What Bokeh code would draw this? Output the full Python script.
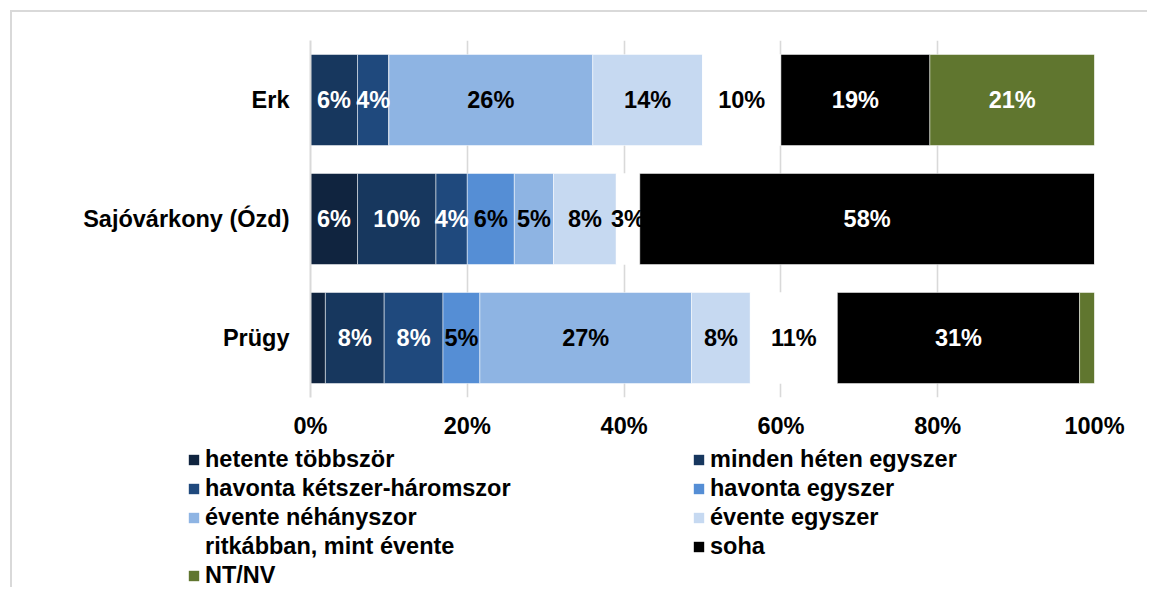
from bokeh.plotting import figure
from bokeh.models import ColumnDataSource, Legend, LegendItem, FixedTicker, Range1d, FactorRange
from bokeh.core.properties import value
from bokeh.embed import file_html
from bokeh.resources import INLINE

# ---- data ----
places = ["Erk", "Sajóvárkony (Ózd)", "Prügy"]
series = ["hetente többször", "minden héten egyszer", "havonta kétszer-háromszor",
          "havonta egyszer", "évente néhányszor", "évente egyszer",
          "ritkábban, mint évente", "soha", "NT/NV"]
hetente_tobbszor = [0.0, 6.0, 1.9]
minden_heten_egyszer = [6.0, 10.0, 7.5]
havonta_ketszer_haromszor = [4.0, 4.0, 7.5]
havonta_egyszer = [0.0, 6.0, 4.7]
evente_nehanyszor = [26.0, 5.0, 27.0]
evente_egyszer = [14.0, 8.0, 7.5]
ritkabban = [10.0, 3.0, 11.1]
soha = [19.0, 58.0, 30.9]
nt_nv = [21.0, 0.0, 1.9]
tick_values = [0, 20, 40, 60, 80, 100]
tick_labels = ["0%", "20%", "40%", "60%", "80%", "100%"]

colors = ["#10243F", "#17375E", "#1F497D", "#558ED5", "#8EB4E3", "#C6D9F1",
          "#FFFFFF", "#000000", "#60762F"]
label_colors = ["white", "white", "white", "black", "black", "black",
                "black", "white", "white"]

values = [hetente_tobbszor, minden_heten_egyszer, havonta_ketszer_haromszor,
          havonta_egyszer, evente_nehanyszor, evente_egyszer, ritkabban, soha, nt_nv]
keys = ["s%d" % i for i in range(len(series))]

data = {"place": places}
for k, v in zip(keys, values):
    data[k] = v
source = ColumnDataSource(data)

FONT = "Liberation Sans"
FS = "23.5px"
W = 1137
BORDER = "2px solid #d9d9d9"

p = figure(width=W, height=435, output_backend="svg", toolbar_location=None,
           y_range=FactorRange(*reversed(places), range_padding=0),
           x_range=Range1d(0, 100),
           min_border_left=298, min_border_top=28, min_border_right=55,
           min_border_bottom=50)
p.margin = (10, 0, 0, 10)
p.styles = {"border-top": BORDER, "border-left": BORDER}

renderers = p.hbar_stack(keys, y="place", height=0.765, color=colors, source=source,
                         line_color="white", line_alpha=0.5, line_width=1)

# segment labels
lx, ly, lt, lc = [], [], [], []
for j, place in enumerate(places):
    start = 0.0
    for i in range(len(series)):
        v = values[i][j]
        if v >= 2.5:
            lx.append(start + v / 2)
            ly.append(place)
            lt.append("%d%%" % int(v + 0.5))
            lc.append(label_colors[i])
        start += v
lsrc = ColumnDataSource(dict(x=lx, y=ly, t=lt, c=lc))
p.text(x="x", y="y", text="t", text_color="c", source=lsrc, text_align="center",
       text_baseline="middle", text_font=value(FONT), text_font_style="bold",
       text_font_size=FS)

# axes
p.xaxis.ticker = FixedTicker(ticks=tick_values)
p.xaxis.major_label_overrides = {t: l for t, l in zip(tick_values, tick_labels)}
for ax in (p.xaxis[0], p.yaxis[0]):
    ax.major_tick_line_color = None
    ax.minor_tick_line_color = None
    ax.major_label_text_font = FONT
    ax.major_label_text_font_style = "bold"
    ax.major_label_text_font_size = FS
    ax.major_label_text_color = "black"
p.xaxis.axis_line_color = None
p.xaxis.major_label_standoff = 9
p.yaxis.axis_line_color = "#d9d9d9"
p.yaxis.axis_line_width = 2
p.yaxis.major_label_standoff = 15
p.ygrid.grid_line_color = None
p.xgrid.grid_line_color = "#d9d9d9"
p.xgrid.grid_line_width = 1.6
p.outline_line_color = None

# ---- legend panel (separate root, so frames are not aligned) ----
H2 = 142
p2 = figure(width=W, height=H2, output_backend="svg", toolbar_location=None,
            x_axis_type=None, y_axis_type=None, x_range=Range1d(0, 1), y_range=Range1d(0, 1),
            min_border=0)
p2.margin = (0, 0, 0, 10)
p2.styles = {"border-left": BORDER}
p2.grid.visible = False
p2.outline_line_color = None
# off-screen proxies carrying the series colours for the legend keys
dummy = [p2.hbar(y=[-10], left=[0], right=[1], height=1, fill_color=c, line_color=None)
         for c in colors]


def make_legend(idx, loc):
    return Legend(items=[LegendItem(label=series[i], renderers=[dummy[i]]) for i in idx],
                  location=loc, orientation="vertical", glyph_width=13, glyph_height=13,
                  label_standoff=5, spacing=0, padding=0, margin=0,
                  border_line_color=None, background_fill_alpha=0,
                  label_text_font=FONT, label_text_font_style="bold",
                  label_text_font_size=FS, label_text_color="black", label_height=29)


p2.add_layout(make_legend([0, 2, 4, 6, 8], (175, H2 - 145)))
p2.add_layout(make_legend([1, 3, 5, 7], (680, H2 - 116)))

open("out.html", "w").write(file_html([p, p2], INLINE))
